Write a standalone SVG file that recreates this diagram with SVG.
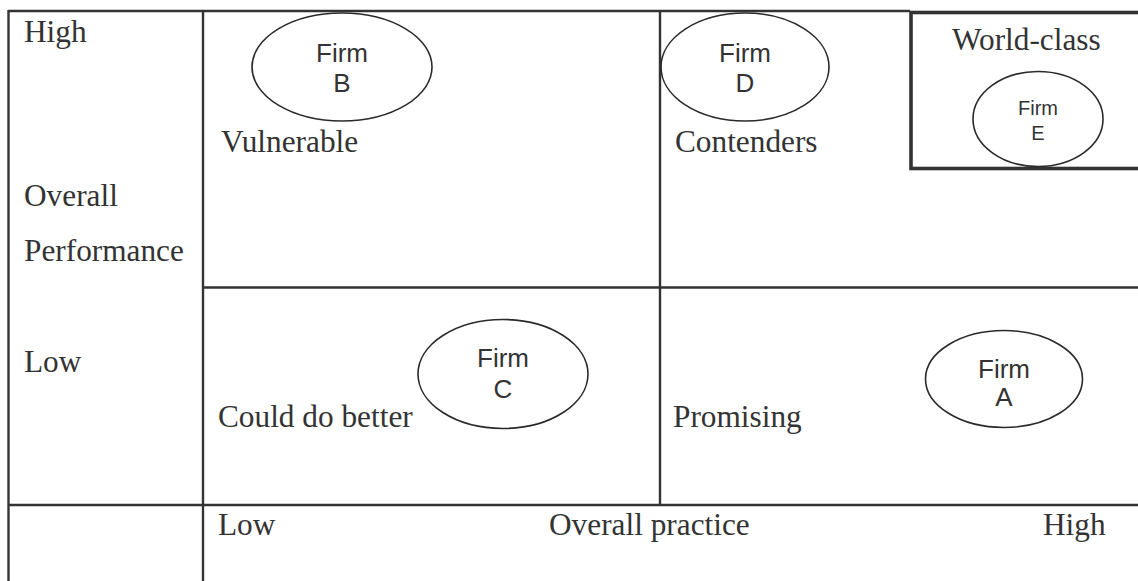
<svg xmlns="http://www.w3.org/2000/svg" width="1138" height="581" viewBox="0 0 1138 581">
  <style>
    .grid { stroke: #333; stroke-width: 2.4; fill: none; }
    .frame { stroke: #333; stroke-width: 3.6; fill: none; }
    .firm { stroke: #2a2a2a; stroke-width: 1.6; fill: none; }
    .serif { font-family: "Liberation Serif", "Times New Roman", serif; font-size: 31.3px; fill: #333; }
    .sans { font-family: "Liberation Sans", Arial, sans-serif; font-size: 26px; fill: #333; text-anchor: middle; }
    .sans-sm { font-size: 20px; }
  </style>
  <rect width="1138" height="581" fill="#fff"/>

  <!-- table grid -->
  <g id="connectors">
    <line class="grid" x1="8.5" y1="11" x2="910" y2="11"/>
    <line class="grid" x1="8.5" y1="10" x2="8.5" y2="581"/>
    <line class="grid" x1="203" y1="10" x2="203" y2="581"/>
    <line class="grid" x1="660" y1="10" x2="660" y2="505"/>
    <line class="grid" x1="203" y1="287.5" x2="1138" y2="287.5"/>
    <line class="grid" x1="8.5" y1="505" x2="1138" y2="505"/>
  </g>

  <!-- axis labels -->
  <g id="axis-labels">
    <text class="serif" x="24" y="42">High</text>
    <text class="serif" x="24" y="206">Overall</text>
    <text class="serif" x="24" y="261">Performance</text>
    <text class="serif" x="24" y="372">Low</text>
    <text class="serif" x="218" y="535">Low</text>
    <text class="serif" x="549" y="535">Overall practice</text>
    <text class="serif" x="1043" y="535">High</text>
  </g>

  <!-- quadrant labels -->
  <g id="quadrant-vulnerable">
    <text class="serif" x="221" y="152">Vulnerable</text>
  </g>
  <g id="quadrant-contenders">
    <text class="serif" x="675" y="152">Contenders</text>
  </g>
  <g id="quadrant-could-do-better">
    <text class="serif" x="218" y="427">Could do better</text>
  </g>
  <g id="quadrant-promising">
    <text class="serif" x="673" y="427">Promising</text>
  </g>
  <g id="quadrant-world-class">
    <rect class="frame" x="911" y="12.5" width="240" height="156"/>
    <text class="serif" x="952" y="50">World-class</text>
  </g>

  <!-- firms -->
  <g id="firm-b">
    <ellipse class="firm" cx="342" cy="67" rx="90" ry="54"/>
    <text class="sans" x="342" y="62">Firm</text>
    <text class="sans" x="342" y="92">B</text>
  </g>
  <g id="firm-d">
    <ellipse class="firm" cx="745" cy="67" rx="84" ry="54"/>
    <text class="sans" x="745" y="62">Firm</text>
    <text class="sans" x="745" y="92">D</text>
  </g>
  <g id="firm-e">
    <ellipse class="firm" cx="1038" cy="119" rx="65" ry="47.5"/>
    <text class="sans sans-sm" x="1038" y="115">Firm</text>
    <text class="sans sans-sm" x="1038" y="140">E</text>
  </g>
  <g id="firm-c">
    <ellipse class="firm" cx="503" cy="374" rx="85" ry="54.5"/>
    <text class="sans" x="503" y="367">Firm</text>
    <text class="sans" x="503" y="398">C</text>
  </g>
  <g id="firm-a">
    <ellipse class="firm" cx="1004" cy="379" rx="78.5" ry="48.5"/>
    <text class="sans" x="1004" y="378">Firm</text>
    <text class="sans" x="1004" y="406">A</text>
  </g>
</svg>
